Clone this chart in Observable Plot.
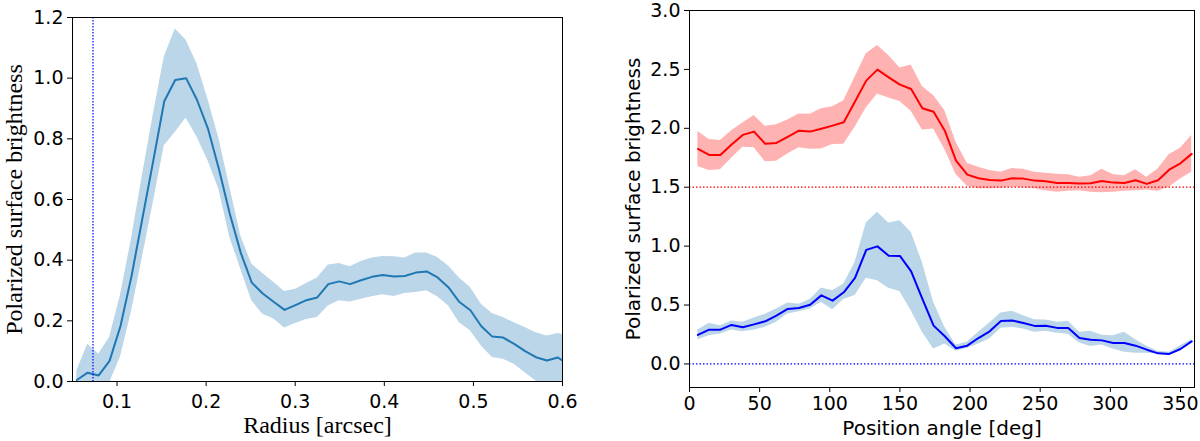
<!DOCTYPE html>
<html>
<head>
<meta charset="utf-8">
<script src="https://cdn.jsdelivr.net/npm/d3@7"></script>
<script src="https://cdn.jsdelivr.net/npm/@observablehq/plot@0.6"></script>
<style>
  body { margin: 0; background: white; }
  #charts { display: flex; width: 1200px; }
</style>
</head>
<body>
<div id="charts"><div id="chart_1"></div><div id="chart_2"></div></div>
<script>
// left panel: radial profile (arcsec)
const radius = [0.0548, 0.0671, 0.0794, 0.0916, 0.1039, 0.1162, 0.1285, 0.1407, 0.1530, 0.1653,
  0.1775, 0.1898, 0.2021, 0.2144, 0.2266, 0.2389, 0.2512, 0.2635, 0.2757, 0.2880,
  0.3003, 0.3125, 0.3248, 0.3371, 0.3494, 0.3616, 0.3739, 0.3862, 0.3984, 0.4107,
  0.4230, 0.4353, 0.4475, 0.4598, 0.4721, 0.4843, 0.4966, 0.5089, 0.5212, 0.5334,
  0.5457, 0.5580, 0.5702, 0.5825, 0.5948, 0.6071];
const radialMean = [0.005, 0.029, 0.020, 0.068, 0.183, 0.347, 0.538, 0.728, 0.924, 0.994,
  1.000, 0.928, 0.833, 0.700, 0.552, 0.424, 0.326, 0.290, 0.263, 0.236,
  0.252, 0.268, 0.277, 0.321, 0.330, 0.321, 0.334, 0.345, 0.351, 0.346,
  0.348, 0.359, 0.363, 0.343, 0.310, 0.262, 0.235, 0.182, 0.148, 0.145,
  0.124, 0.100, 0.080, 0.069, 0.079, 0.055];
const radialHigh = [0.035, 0.123, 0.090, 0.145, 0.285, 0.470, 0.680, 0.880, 1.070, 1.162,
  1.126, 1.047, 0.930, 0.800, 0.640, 0.480, 0.387, 0.356, 0.327, 0.297,
  0.304, 0.323, 0.341, 0.384, 0.389, 0.378, 0.396, 0.407, 0.412, 0.411,
  0.407, 0.424, 0.424, 0.409, 0.381, 0.341, 0.310, 0.255, 0.224, 0.211,
  0.194, 0.178, 0.161, 0.150, 0.158, 0.150];
const radialLow = [-0.030, -0.060, -0.050, -0.005, 0.082, 0.230, 0.410, 0.590, 0.777, 0.821,
  0.869, 0.805, 0.728, 0.632, 0.475, 0.370, 0.266, 0.222, 0.207, 0.176,
  0.191, 0.204, 0.211, 0.249, 0.266, 0.262, 0.271, 0.279, 0.286, 0.280,
  0.290, 0.293, 0.299, 0.279, 0.249, 0.194, 0.167, 0.117, 0.079, 0.073,
  0.057, 0.029, 0.002, -0.025, -0.050, -0.070];
const innerEdge = 0.073;

// right panel: azimuthal profiles (deg)
const angle = [6, 14, 22, 30, 38, 46, 54, 62, 70, 78, 86, 94, 102, 110, 118, 126, 134, 142, 150, 158,
  166, 174, 182, 190, 198, 206, 214, 222, 230, 238, 246, 254, 262, 270, 278, 286, 294, 302, 310, 318,
  326, 334, 342, 350, 358];
const redMean = [1.825, 1.774, 1.774, 1.862, 1.944, 1.972, 1.868, 1.876, 1.927, 1.980,
  1.972, 1.997, 2.023, 2.051, 2.227, 2.405, 2.498, 2.433, 2.371, 2.334,
  2.170, 2.140, 1.980, 1.726, 1.607, 1.576, 1.562, 1.556, 1.576, 1.573,
  1.556, 1.550, 1.536, 1.536, 1.531, 1.533, 1.553, 1.539, 1.536, 1.559,
  1.528, 1.559, 1.649, 1.703, 1.783];
const redHigh = [1.972, 1.904, 1.896, 1.980, 2.046, 2.108, 2.017, 2.031, 2.071, 2.122,
  2.119, 2.165, 2.184, 2.235, 2.433, 2.632, 2.702, 2.617, 2.513, 2.538,
  2.354, 2.278, 2.150, 1.881, 1.703, 1.669, 1.641, 1.627, 1.658, 1.652,
  1.627, 1.618, 1.610, 1.605, 1.584, 1.598, 1.652, 1.607, 1.598, 1.649,
  1.584, 1.655, 1.777, 1.830, 1.938];
const redLow = [1.675, 1.641, 1.649, 1.745, 1.839, 1.836, 1.717, 1.720, 1.783, 1.834,
  1.822, 1.825, 1.862, 1.865, 2.009, 2.173, 2.292, 2.258, 2.227, 2.144,
  1.986, 1.995, 1.820, 1.607, 1.508, 1.486, 1.486, 1.491, 1.500, 1.494,
  1.486, 1.471, 1.457, 1.466, 1.471, 1.457, 1.452, 1.457, 1.466, 1.471,
  1.477, 1.466, 1.500, 1.570, 1.627];
const blueMean = [0.246, 0.291, 0.291, 0.331, 0.311, 0.336, 0.362, 0.410, 0.467, 0.475,
  0.503, 0.582, 0.537, 0.608, 0.730, 0.968, 0.998, 0.919, 0.917, 0.786,
  0.552, 0.325, 0.235, 0.133, 0.155, 0.220, 0.277, 0.365, 0.368, 0.348,
  0.323, 0.325, 0.306, 0.306, 0.220, 0.206, 0.200, 0.178, 0.178, 0.155,
  0.121, 0.090, 0.085, 0.127, 0.192];
const blueHigh = [0.288, 0.345, 0.325, 0.365, 0.353, 0.390, 0.421, 0.467, 0.518, 0.506,
  0.546, 0.645, 0.622, 0.679, 0.862, 1.197, 1.287, 1.197, 1.216, 1.117,
  0.862, 0.523, 0.311, 0.161, 0.184, 0.268, 0.348, 0.433, 0.447, 0.410,
  0.376, 0.373, 0.353, 0.362, 0.268, 0.277, 0.243, 0.240, 0.268, 0.206,
  0.150, 0.107, 0.099, 0.155, 0.206];
const blueLow = [0.206, 0.240, 0.255, 0.289, 0.274, 0.289, 0.311, 0.353, 0.424, 0.444,
  0.467, 0.523, 0.461, 0.546, 0.580, 0.727, 0.707, 0.642, 0.614, 0.452,
  0.268, 0.127, 0.170, 0.107, 0.133, 0.170, 0.212, 0.302, 0.311, 0.297,
  0.268, 0.277, 0.260, 0.251, 0.178, 0.147, 0.161, 0.127, 0.099, 0.090,
  0.090, 0.085, 0.070, 0.113, 0.184];
const redBase = 1.5;
const blueBase = 0;

const leftXTicks = [0.1, 0.2, 0.3, 0.4, 0.5, 0.6];
const leftYTicks = [0, 0.2, 0.4, 0.6, 0.8, 1.0, 1.2];
const rightXTicks = [0, 50, 100, 150, 200, 250, 300, 350];
const rightYTicks = [0, 0.5, 1.0, 1.5, 2.0, 2.5, 3.0];

const radial = radius.map((r, i) => ({r: r, mean: radialMean[i], lo: radialLow[i], hi: radialHigh[i]}));
const azim = angle.map((a, i) => ({
  a: a,
  red: redMean[i], redLo: redLow[i], redHi: redHigh[i],
  blue: blueMean[i], blueLo: blueLow[i], blueHi: blueHigh[i]
}));

const fmt1 = d => d.toFixed(1);

let left = Plot.plot({
  width: 600,
  height: 441,
  marginLeft: 72,
  marginRight: 38,
  marginTop: 17,
  marginBottom: 60,
  style: {fontFamily: "DejaVu Sans", fontSize: "19px", color: "black", background: "white"},
  x: {domain: [0.05, 0.6]},
  y: {domain: [0, 1.2]},
  marks: [
    Plot.areaY(radial, {x: "r", y1: "lo", y2: "hi", fill: "#1f77b4", fillOpacity: 0.3, clip: true}),
    Plot.lineY(radial, {x: "r", y: "mean", stroke: "#1f77b4", strokeWidth: 2, clip: true}),
    Plot.ruleX([innerEdge], {stroke: "blue", strokeWidth: 1.2, strokeDasharray: "1.5,1.5"}),
    Plot.frame({stroke: "black", strokeWidth: 1}),
    Plot.axisX({ticks: leftXTicks, tickFormat: fmt1, tickSize: 5, tickPadding: 8, label: null}),
    Plot.axisY({ticks: leftYTicks, tickFormat: fmt1, tickSize: 5, tickPadding: 4, label: null}),
    Plot.text(["Radius [arcsec]"], {frameAnchor: "bottom", textAnchor: "middle", lineAnchor: "middle",
      dy: 44, fontFamily: "Liberation Serif", fontSize: 24}),
    Plot.text(["Polarized surface brightness"], {frameAnchor: "left", textAnchor: "middle", lineAnchor: "middle",
      rotate: -90, dx: -58, fontFamily: "Liberation Serif", fontSize: 24})
  ]
});

let right = Plot.plot({
  width: 600,
  height: 441,
  marginLeft: 89,
  marginRight: 6,
  marginTop: 10,
  marginBottom: 54,
  style: {fontFamily: "DejaVu Sans", fontSize: "19px", color: "black", background: "white"},
  x: {domain: [0, 360]},
  y: {domain: [-0.2, 3.0]},
  marks: [
    Plot.areaY(azim, {x: "a", y1: "redLo", y2: "redHi", fill: "red", fillOpacity: 0.3, clip: true}),
    Plot.areaY(azim, {x: "a", y1: "blueLo", y2: "blueHi", fill: "#1f77b4", fillOpacity: 0.3, clip: true}),
    Plot.ruleY([redBase], {stroke: "red", strokeWidth: 1.2, strokeDasharray: "1.5,2"}),
    Plot.ruleY([blueBase], {stroke: "blue", strokeWidth: 1.2, strokeDasharray: "1.5,2"}),
    Plot.lineY(azim, {x: "a", y: "red", stroke: "red", strokeWidth: 2, clip: true}),
    Plot.lineY(azim, {x: "a", y: "blue", stroke: "blue", strokeWidth: 2, clip: true}),
    Plot.frame({stroke: "black", strokeWidth: 1}),
    Plot.axisX({ticks: rightXTicks, tickSize: 5, tickPadding: 4, label: null}),
    Plot.axisY({ticks: rightYTicks, tickFormat: fmt1, tickSize: 5, tickPadding: 4, label: null}),
    Plot.text(["Position angle [deg]"], {frameAnchor: "bottom", textAnchor: "middle", lineAnchor: "middle",
      dy: 41, fontSize: 20}),
    Plot.text(["Polarized surface brightness"], {frameAnchor: "left", textAnchor: "middle", lineAnchor: "middle",
      rotate: -90, dx: -56, fontSize: 20})
  ]
});

d3.select('#chart_1').append(() => left);
d3.select('#chart_2').append(() => right);
</script>
</body>
</html>
